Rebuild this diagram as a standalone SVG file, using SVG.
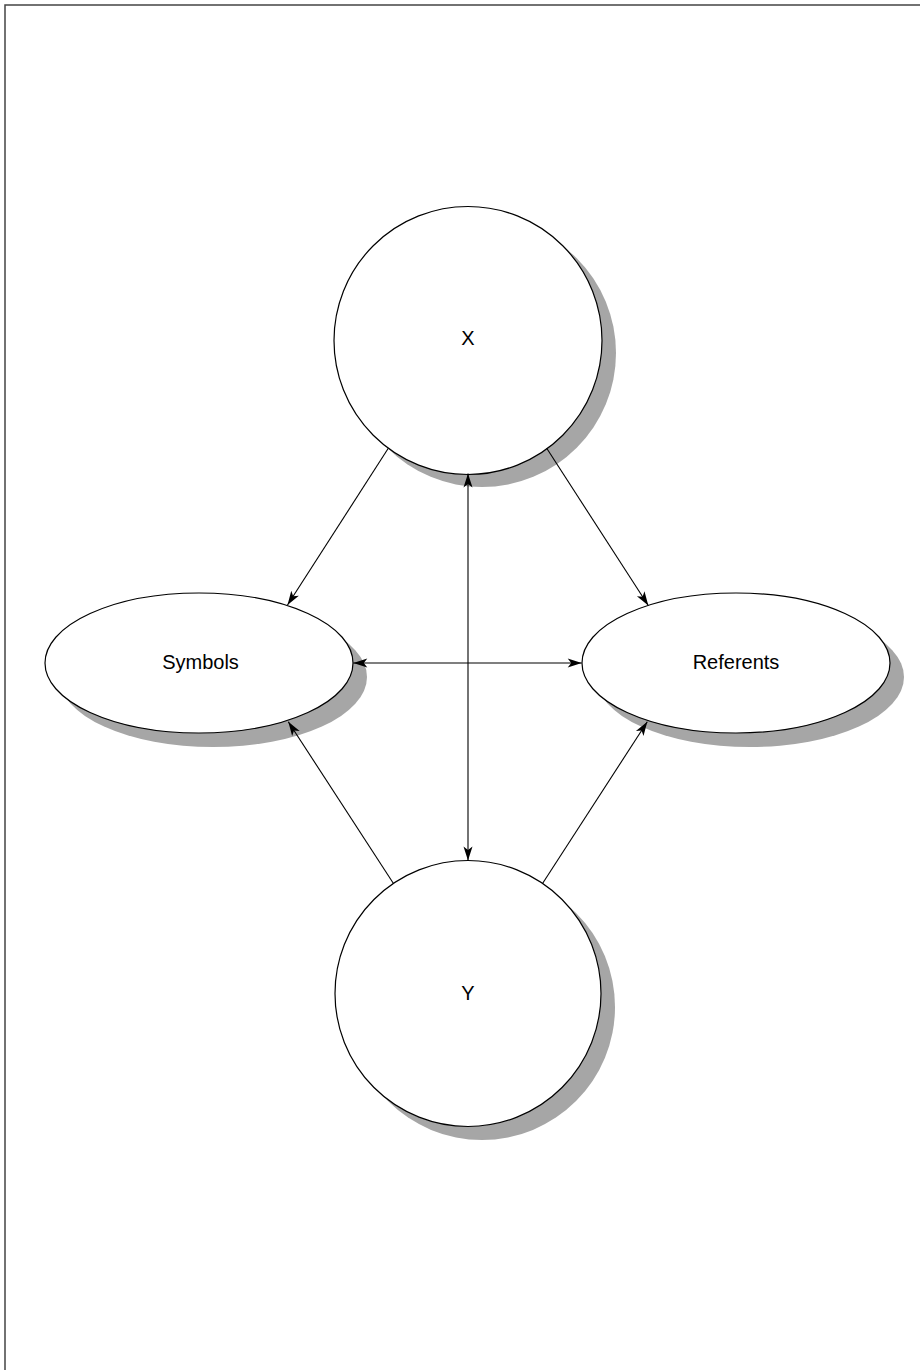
<svg xmlns="http://www.w3.org/2000/svg" width="920" height="1370" viewBox="0 0 920 1370">
<style>
.shadow{fill:#a6a6a6;stroke:none}
.node{fill:#ffffff;stroke:#000000;stroke-width:1.2}
.label{font-family:"Liberation Sans",Arial,sans-serif;font-size:20px;fill:#000000;text-anchor:middle}
.conn{stroke:#000000;stroke-width:1.1;fill:none}
</style>
<defs>
<marker id="ah" viewBox="-15 -5 16 10" refX="0" refY="0" markerWidth="16" markerHeight="10" markerUnits="userSpaceOnUse" orient="auto">
<path d="M0,0 L-14,-4.5 L-10.5,0 L-14,4.5 Z" fill="#000000"/>
</marker>
<marker id="ahs" viewBox="-1 -5 16 10" refX="0" refY="0" markerWidth="16" markerHeight="10" markerUnits="userSpaceOnUse" orient="auto">
<path d="M0,0 L14,-4.5 L10.5,0 L14,4.5 Z" fill="#000000"/>
</marker>
</defs>
<rect x="0" y="0" width="920" height="1370" fill="#ffffff"/>
<rect x="5" y="5" width="1000" height="1500" fill="none" stroke="#444444" stroke-width="1.5"/>
<g id="node-x">
<circle class="shadow" cx="482" cy="353" r="134"/>
<circle class="node" cx="468" cy="340.5" r="134"/>
<text class="label" x="468" y="345">X</text>
</g>
<g id="node-symbols">
<ellipse class="shadow" cx="213" cy="677" rx="154" ry="70"/>
<ellipse class="node" cx="199" cy="663" rx="154" ry="70"/>
<text class="label" x="200.5" y="669">Symbols</text>
</g>
<g id="node-referents">
<ellipse class="shadow" cx="750" cy="677" rx="154" ry="70"/>
<ellipse class="node" cx="736" cy="663" rx="154" ry="70"/>
<text class="label" x="736" y="669">Referents</text>
</g>
<g id="node-y">
<circle class="shadow" cx="482" cy="1007" r="133"/>
<circle class="node" cx="468" cy="993.5" r="133"/>
<text class="label" x="468" y="999.5">Y</text>
</g>
<g id="connectors">
<line class="conn" x1="388.3" y1="448.3" x2="287.5" y2="605" marker-end="url(#ah)"/>
<line class="conn" x1="546.7" y1="448.3" x2="648.3" y2="605.5" marker-end="url(#ah)"/>
<line class="conn" x1="393.3" y1="883.3" x2="288.3" y2="721.7" marker-end="url(#ah)"/>
<line class="conn" x1="542.7" y1="883.3" x2="647.3" y2="721.7" marker-end="url(#ah)"/>
<line class="conn" x1="353.3" y1="663" x2="581.7" y2="663" marker-start="url(#ahs)" marker-end="url(#ah)"/>
<line class="conn" x1="468" y1="473.5" x2="468" y2="860.5" marker-start="url(#ahs)" marker-end="url(#ah)"/>
</g>
</svg>
